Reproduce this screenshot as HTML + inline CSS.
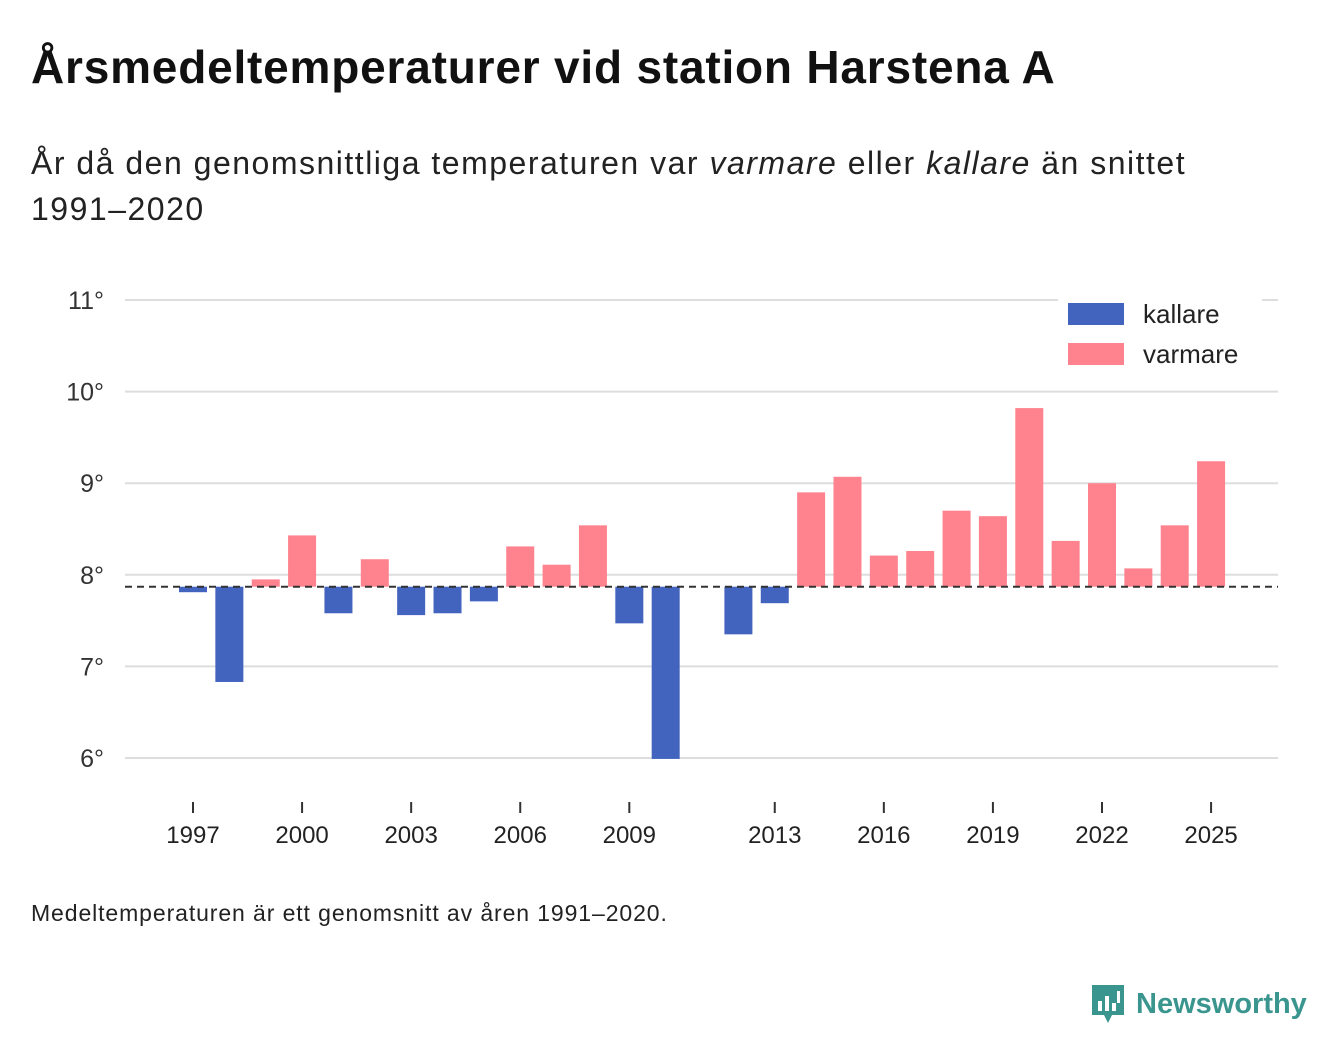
<!DOCTYPE html>
<html><head><meta charset="utf-8"><style>
body{margin:0;width:1340px;height:1056px;background:#fff;font-family:"Liberation Sans",sans-serif;color:#111;overflow:hidden;position:relative}
.t{position:absolute;left:31px;top:40px;font-size:46px;letter-spacing:0.8px;font-weight:bold;margin:0;white-space:nowrap}
.s{position:absolute;left:31px;top:140px;font-size:32px;letter-spacing:1.5px;line-height:46px;width:1220px;color:#222}
.f{position:absolute;left:31px;top:900px;font-size:23px;letter-spacing:0.9px;color:#222}
.logo{position:absolute;left:1090px;top:983px;font-size:29px;font-weight:bold;color:#3a958f;display:flex;align-items:center}
</style></head><body>
<h1 class="t">Årsmedeltemperaturer vid station Harstena A</h1>
<div class="s">År då den genomsnittliga temperaturen var <i>varmare</i> eller <i>kallare</i> än snittet <span style="white-space:nowrap">1991–2020</span></div>
<svg id="c" width="1340" height="1056" style="position:absolute;left:0;top:0"></svg>
<div class="f">Medeltemperaturen är ett genomsnitt av åren 1991–2020.</div>
<div class="logo"><svg width="36" height="42" viewBox="0 0 36 42"><path d="M2 2h32v30H22l-4 8-4-8H2z" fill="#3a958f"/><rect x="8" y="18" width="4" height="10" fill="#fff"/><rect x="15" y="13" width="4" height="15" fill="#fff"/><rect x="22" y="20" width="4" height="8" fill="#fff"/><rect x="27" y="8" width="3" height="12" fill="#fff"/></svg><span style="margin-left:10px">Newsworthy</span></div>
<script>
const years=[1997,1998,1999,2000,2001,2002,2003,2004,2005,2006,2007,2008,2009,2010,2011,2012,2013,2014,2015,2016,2017,2018,2019,2020,2021,2022,2023,2024,2025];
const temps=[7.81,6.83,7.95,8.43,7.58,8.17,7.56,7.58,7.71,8.31,8.11,8.54,7.47,5.99,null,7.35,7.69,8.90,9.07,8.21,8.26,8.70,8.64,9.82,8.37,9.00,8.07,8.54,9.24];
const baseline=7.87;
const yTicks=[6,7,8,9,10,11];
const xTicks=[1997,2000,2003,2006,2009,2013,2016,2019,2022,2025];
const NS="http://www.w3.org/2000/svg",svg=document.getElementById('c');
const y=v=>758-(v-6)*91.6, x=yr=>193+(yr-1997)*36.36;
function mk(t,a,txt){const e=document.createElementNS(NS,t);for(const k in a)e.setAttribute(k,a[k]);if(txt!=null)e.textContent=txt;svg.appendChild(e);return e;}
yTicks.forEach(v=>{
 const l=mk('line',{x1:125,x2:1278,y1:y(v),y2:y(v),stroke:'#ddd','stroke-width':2});
 
 
 const t=mk('text',{x:104,y:y(v)+9,'text-anchor':'end','font-size':25,fill:'#333','font-family':'Liberation Sans'},v+'°');
 
 
});
xTicks.forEach(yr=>{
 const l=mk('line',{x1:x(yr),x2:x(yr),y1:802,y2:813,stroke:'#333','stroke-width':2});
 
 
 const t=mk('text',{x:x(yr),y:843,'text-anchor':'middle','font-size':24,fill:'#222','font-family':'Liberation Sans'},yr);
 
 
});
years.forEach((yr,i)=>{
 const v=temps[i];if(v==null)return;
 const top=Math.min(y(v),y(baseline)),h=Math.abs(y(v)-y(baseline));
 const r=mk('rect',{x:x(yr)-14,y:top,width:28,height:Math.max(h,1),fill:v<baseline?'#4263be':'#ff838f'});
 
 
});
const bl=mk('line',{x1:125,x2:1278,y1:y(baseline),y2:y(baseline),stroke:'#333','stroke-width':2,'stroke-dasharray':'7,5'});


const lb=mk('rect',{x:1058,y:293,width:204,height:82,fill:'#fff'});


[['kallare','#4263be',303],['varmare','#ff838f',343]].forEach(([n,c,yy])=>{
 const r=mk('rect',{x:1068,y:yy,width:56,height:22,fill:c});
 
 
 const t=mk('text',{x:1143,y:yy+20,'font-size':26,fill:'#222','font-family':'Liberation Sans'},n);
 
 
});
</script>
</body></html>
